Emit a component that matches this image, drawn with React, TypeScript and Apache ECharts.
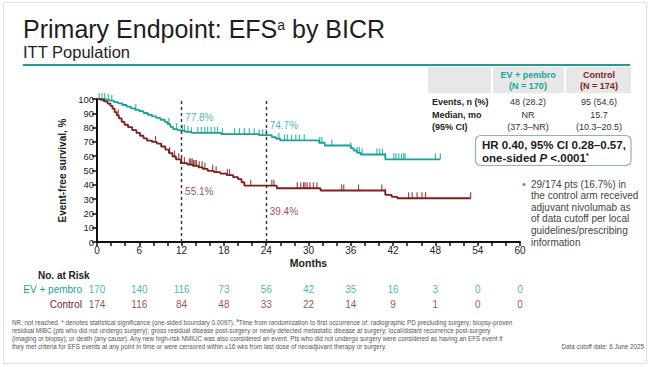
import React, { useEffect, useRef } from "react";
import * as echarts from "echarts";

const FONT = "'Liberation Sans', Arial, Helvetica, sans-serif";
const TEAL = "#17a398";
const MAROON = "#7e1e1e";

// Kaplan–Meier step points (months, EFS %)
const evTimes = [0, 1.2, 1.8, 2.4, 3.0, 3.6, 4.2, 4.8, 5.4, 6.0, 6.6, 7.2, 7.8, 8.4, 9.0, 9.6, 10.0, 10.4, 10.8, 11.4, 11.9, 12.5, 13.4, 17.6, 23.0, 24.8, 25.4, 26.0, 31.5, 32.3, 36.0, 36.4, 36.9, 37.4, 40.9, 48.7];
const evSurv = [100, 99.4, 98.8, 97.8, 97.0, 95.8, 94.7, 93.5, 92.4, 91.5, 90.2, 89.0, 87.8, 86.8, 85.5, 84.0, 82.5, 80.5, 79.0, 78.3, 77.8, 77.0, 76.3, 75.4, 74.7, 73.3, 72.2, 71.0, 69.4, 67.5, 65.6, 64.0, 62.4, 61.2, 57.8, 57.8];
const ctrlTimes = [0, 0.5, 1.0, 1.5, 1.9, 2.2, 2.5, 2.8, 3.1, 3.5, 3.9, 4.4, 5.0, 5.6, 6.1, 6.6, 7.1, 7.8, 8.5, 9.1, 9.7, 10.2, 10.7, 11.2, 11.9, 12.8, 13.6, 14.4, 15.0, 15.7, 16.6, 17.5, 18.4, 19.3, 20.0, 20.5, 20.9, 25.5, 31.7, 40.9, 41.8, 42.6, 53.0];
const ctrlSurv = [100, 99.4, 98.3, 96.8, 95.2, 93.2, 90.8, 88.5, 86.5, 84.0, 82.0, 80.3, 78.2, 76.3, 74.3, 72.5, 70.9, 70.0, 68.8, 66.8, 64.6, 62.2, 59.8, 57.8, 55.1, 54.2, 53.2, 52.2, 51.2, 49.8, 48.8, 47.8, 46.8, 45.4, 44.0, 41.8, 39.4, 37.6, 36.0, 33.0, 31.6, 30.6, 30.6];

// censor times (months)
const evCensor = [0.3, 0.7, 1.1, 1.6, 2.1, 5.5, 10.2, 11.3, 12.1, 12.4, 12.9, 13.4, 14.3, 14.8, 15.3, 15.7, 16.2, 16.7, 17.1, 17.8, 19.5, 20.2, 20.9, 21.6, 22.3, 23.0, 23.5, 24.0, 25.8, 26.6, 27.0, 27.6, 28.2, 28.7, 29.4, 31.6, 31.9, 33.3, 36.0, 36.9, 37.2, 37.6, 39.7, 40.1, 40.5, 40.9, 42.1, 42.4, 42.8, 43.2, 43.5, 43.7, 48.0, 48.7];
const ctrlCensor = [3.0, 8.3, 10.3, 11.0, 11.6, 12.0, 12.4, 13.1, 13.3, 13.5, 13.7, 13.9, 14.1, 14.5, 14.9, 15.3, 16.4, 16.9, 18.5, 18.8, 21.8, 24.8, 25.1, 28.4, 28.9, 29.3, 29.5, 29.8, 30.2, 30.7, 31.2, 34.7, 35.0, 37.1, 40.4, 40.9, 44.2, 44.7, 45.4, 46.1, 46.6, 53.0];

const landmarkMonths = [12, 24];
const evLandmark = [77.8, 74.7];
const ctrlLandmark = [55.1, 39.4];

const atRiskMonths = [0, 6, 12, 18, 24, 30, 36, 42, 48, 54, 60];
const evAtRisk = [170, 140, 116, 73, 56, 42, 35, 16, 3, 0, 0];
const ctrlAtRisk = [174, 116, 84, 48, 33, 22, 14, 9, 1, 0, 0];
const riskRows = ["Control", "EV + pembro"];

const bulletLines = [
  "29/174 pts (16.7%) in",
  "the control arm received",
  "adjuvant nivolumab as",
  "of data cutoff per local",
  "guidelines/prescribing",
  "information",
];

const footLines = [
  "NR, not reached. * denotes statistical significance (one-sided boundary 0.0097). ",
  "residual MIBC (pts who did not undergo surgery); gross residual disease post-surgery or newly detected metastatic disease at surgery; local/distant recurrence post-surgery",
  "(imaging or biopsy); or death (any cause). Any new high-risk NMIUC was also considered an event. Pts who did not undergo surgery were considered as having an EFS event if",
  "they met criteria for EFS events at any point in time or were censored within \u226416 wks from last dose of neoadjuvant therapy or surgery.",
];
const footLine1Rest = "Time from randomization to first occurrence of: radiographic PD precluding surgery; biopsy-proven";

function survAt(times: number[], surv: number[], t: number) {
  let v = surv[0];
  for (let i = 0; i < times.length; i++) if (times[i] <= t) v = surv[i];
  return v;
}

type TOpt = { size?: number; bold?: boolean; italic?: boolean; fill?: string; align?: string };
function T(x: number, y: number, text: string, o: TOpt = {}) {
  return {
    type: "text",
    x,
    y,
    silent: true,
    style: {
      text,
      fill: o.fill ?? "#222",
      font: `${o.italic ? "italic " : ""}${o.bold ? "bold " : ""}${o.size ?? 10}px ${FONT}`,
      textAlign: o.align ?? "left",
      textVerticalAlign: "middle",
    },
  };
}

export default function App() {
  const ref = useRef<HTMLDivElement>(null);

  useEffect(() => {
    document.body.style.margin = "0";
    const chart = echarts.init(ref.current!, null, { renderer: "svg", width: 650, height: 367 });

    const FOOT = 6.3;
    const graphics: any[] = [
      { type: "rect", shape: { x: 3.5, y: 2.5, width: 643, height: 361 }, style: { fill: "none", stroke: "#e2e2e2", lineWidth: 1 }, silent: true },
      {
        type: "text",
        x: 23,
        y: 29,
        silent: true,
        style: {
          text: "{t|Primary Endpoint: EFS}{s|a}{t| by BICR}",
          textVerticalAlign: "middle",
          rich: {
            t: { fontSize: 25, fontFamily: FONT, fill: "#1e1e1e", lineHeight: 22 },
            s: { fontSize: 14, fontFamily: FONT, fill: "#1e1e1e", verticalAlign: "top", lineHeight: 22 },
          },
        },
      },
      T(23, 52, "ITT Population", { size: 16.5, fill: "#1e1e1e" }),
      { type: "line", shape: { x1: 23, y1: 65, x2: 630, y2: 65 }, style: { stroke: "#1a9e96", lineWidth: 2 }, silent: true },
      // table header
      { type: "rect", shape: { x: 428, y: 67, width: 63, height: 26 }, style: { fill: "#e7e7e7" }, silent: true },
      { type: "rect", shape: { x: 493, y: 67, width: 71, height: 26 }, style: { fill: "#e7e7e7" }, silent: true },
      { type: "rect", shape: { x: 566, y: 67, width: 65, height: 26 }, style: { fill: "#e7e7e7" }, silent: true },
      T(528, 74.5, "EV + pembro", { size: 9, bold: true, fill: TEAL, align: "center" }),
      T(528, 85.5, "(N = 170)", { size: 9, bold: true, fill: TEAL, align: "center" }),
      T(599, 74.5, "Control", { size: 9, bold: true, fill: MAROON, align: "center" }),
      T(599, 85.5, "(N = 174)", { size: 9, bold: true, fill: MAROON, align: "center" }),
      T(432, 101.5, "Events, n (%)", { size: 9, bold: true }),
      T(528, 101.5, "48 (28.2)", { size: 9, fill: "#333", align: "center" }),
      T(599, 101.5, "95 (54.6)", { size: 9, fill: "#333", align: "center" }),
      T(432, 115, "Median, mo", { size: 9, bold: true }),
      T(432, 127, "(95% CI)", { size: 9, bold: true }),
      T(528, 115, "NR", { size: 9, fill: "#333", align: "center" }),
      T(528, 127, "(37.3\u2013NR)", { size: 9, fill: "#333", align: "center" }),
      T(599, 115, "15.7", { size: 9, fill: "#333", align: "center" }),
      T(599, 127, "(10.3\u201320.5)", { size: 9, fill: "#333", align: "center" }),
      // HR box
      { type: "rect", shape: { x: 475.5, y: 135.5, width: 155.5, height: 30, r: 5 }, style: { fill: "#fff", stroke: "#8fb0c8", lineWidth: 1.2 }, silent: true },
      T(482, 144.5, "HR 0.40, 95% CI 0.28\u20130.57,", { size: 11.5, bold: true, fill: "#1a1a1a" }),
      {
        type: "text",
        x: 482,
        y: 157.5,
        silent: true,
        style: {
          text: "{b|one-sided }{i|P}{b| <.0001}{s|*}",
          textVerticalAlign: "middle",
          rich: {
            b: { fontSize: 11.5, fontWeight: "bold", fontFamily: FONT, fill: "#1a1a1a", lineHeight: 13 },
            i: { fontSize: 11.5, fontWeight: "bold", fontStyle: "italic", fontFamily: FONT, fill: "#1a1a1a", lineHeight: 13 },
            s: { fontSize: 8, fontWeight: "bold", fontFamily: FONT, fill: "#1a1a1a", verticalAlign: "top", lineHeight: 13 },
          },
        },
      },
      // bullet
      T(524, 184, "\u2022", { size: 10, fill: TEAL, align: "center" }),
      ...bulletLines.map((l, i) => T(531, 184 + i * 11.6, l, { size: 10, fill: "#444" })),
      // at-risk title
      T(38, 275, "No. at Risk", { size: 10, bold: true, fill: "#222" }),
      // footnotes
      {
        type: "text",
        x: 12,
        y: 322,
        silent: true,
        style: {
          text: `{n|${footLines[0]}}{s|a}{n|${footLine1Rest}}`,
          textVerticalAlign: "middle",
          rich: {
            n: { fontSize: FOOT, fontFamily: FONT, fill: "#555", lineHeight: 8 },
            s: { fontSize: 4.5, fontFamily: FONT, fill: "#555", verticalAlign: "top", lineHeight: 8 },
          },
        },
      },
      ...footLines.slice(1).map((l, i) => T(12, 330 + i * 8, l, { size: FOOT, fill: "#555" })),
      T(644, 346.5, "Data cutoff date: 6 June 2025", { size: FOOT, fill: "#555", align: "right" }),
    ];

    const kmData = (times: number[], surv: number[]) => times.map((t, i) => [t, surv[i]]);
    const censorData = (cens: number[], times: number[], surv: number[]) => cens.map((t) => [t, survAt(times, surv, t)]);

    const option: any = {
      animation: false,
      backgroundColor: "#fff",
      textStyle: { fontFamily: FONT },
      grid: [
        { left: 97, right: 130, top: 99, height: 143 },
        { left: 97, right: 130, top: 281.5, height: 30 },
      ],
      xAxis: [
        {
          type: "value",
          gridIndex: 0,
          min: 0,
          max: 60,
          interval: 2,
          axisLine: { show: true, onZero: false, lineStyle: { color: "#111", width: 2 } },
          axisTick: { show: true, length: 4, lineStyle: { color: "#111", width: 1.5 } },
          axisLabel: {
            fontSize: 10,
            color: "#222",
            margin: 3,
            formatter: (v: number) => (v % 6 === 0 ? String(v) : ""),
          },
          splitLine: { show: false },
          name: "Months",
          nameLocation: "middle",
          nameGap: 15,
          nameTextStyle: { fontSize: 10.5, fontWeight: "bold", color: "#222" },
        },
        { type: "value", gridIndex: 1, min: 0, max: 60, show: false },
      ],
      yAxis: [
        {
          type: "value",
          gridIndex: 0,
          min: 0,
          max: 100,
          interval: 10,
          axisLine: { show: true, lineStyle: { color: "#111", width: 2 } },
          axisTick: { show: true, length: 5, lineStyle: { color: "#111", width: 1.5 } },
          axisLabel: { fontSize: 9.5, color: "#222", margin: 3 },
          splitLine: { show: false },
          name: "Event-free survival, %",
          nameLocation: "middle",
          nameGap: 28,
          nameRotate: 90,
          nameTextStyle: { fontSize: 10, fontWeight: "bold", color: "#222" },
        },
        {
          type: "category",
          gridIndex: 1,
          data: riskRows,
          axisLine: { show: false },
          axisTick: { show: false },
          splitLine: { show: false },
          axisLabel: {
            fontSize: 10,
            margin: 15,
            color: (v: string) => (v === "EV + pembro" ? TEAL : MAROON),
          },
        },
      ],
      graphic: graphics,
      series: [
        {
          type: "line",
          name: "EV + pembro",
          data: kmData(evTimes, evSurv),
          step: "end",
          symbol: "none",
          lineStyle: { color: TEAL, width: 1.8 },
          z: 3,
          markLine: {
            silent: true,
            symbol: ["none", "none"],
            label: { show: false },
            lineStyle: { type: [3, 3], color: "#333", width: 1.4 },
            data: landmarkMonths.map((m) => ({ xAxis: m })),
          },
        },
        {
          type: "line",
          name: "Control",
          data: kmData(ctrlTimes, ctrlSurv),
          step: "end",
          symbol: "none",
          lineStyle: { color: MAROON, width: 1.8 },
          z: 3,
        },
        {
          type: "scatter",
          data: censorData(evCensor, evTimes, evSurv),
          symbol: "rect",
          symbolSize: [1.2, 6],
          symbolOffset: [0, -3],
          itemStyle: { color: TEAL },
          clip: false,
          z: 4,
        },
        {
          type: "scatter",
          data: censorData(ctrlCensor, ctrlTimes, ctrlSurv),
          symbol: "rect",
          symbolSize: [1.2, 6],
          symbolOffset: [0, -3],
          itemStyle: { color: MAROON },
          clip: false,
          z: 4,
        },
        {
          type: "scatter",
          symbolSize: 1,
          itemStyle: { color: "rgba(0,0,0,0)" },
          data: landmarkMonths.map((m, i) => ({ value: [m, evLandmark[i]], label: { offset: [0, i === 0 ? -13 : -10] } })),
          label: {
            show: true,
            position: "right",
            distance: 3,
            color: TEAL,
            fontSize: 10,
            formatter: (p: any) => `${p.value[1].toFixed(1)}%`,
          },
          z: 5,
        },
        {
          type: "scatter",
          symbolSize: 1,
          itemStyle: { color: "rgba(0,0,0,0)" },
          data: landmarkMonths.map((m, i) => ({ value: [m, ctrlLandmark[i]], label: { offset: [0, i === 0 ? 28 : 26] } })),
          label: {
            show: true,
            position: "right",
            distance: 3,
            color: MAROON,
            fontSize: 10,
            formatter: (p: any) => `${p.value[1].toFixed(1)}%`,
          },
          z: 5,
        },
        {
          type: "scatter",
          xAxisIndex: 1,
          yAxisIndex: 1,
          symbolSize: 1,
          itemStyle: { color: "rgba(0,0,0,0)" },
          data: atRiskMonths.map((m) => [m, "EV + pembro"]),
          label: {
            show: true,
            position: "inside",
            color: TEAL,
            fontSize: 10,
            formatter: (p: any) => String(evAtRisk[p.dataIndex]),
          },
        },
        {
          type: "scatter",
          xAxisIndex: 1,
          yAxisIndex: 1,
          symbolSize: 1,
          itemStyle: { color: "rgba(0,0,0,0)" },
          data: atRiskMonths.map((m) => [m, "Control"]),
          label: {
            show: true,
            position: "inside",
            color: MAROON,
            fontSize: 10,
            formatter: (p: any) => String(ctrlAtRisk[p.dataIndex]),
          },
        },
      ],
    };

    chart.setOption(option);
    return () => chart.dispose();
  }, []);

  return <div ref={ref} style={{ width: 650, height: 367, position: "absolute", left: 0, top: 0, background: "#fff" }} />;
}
